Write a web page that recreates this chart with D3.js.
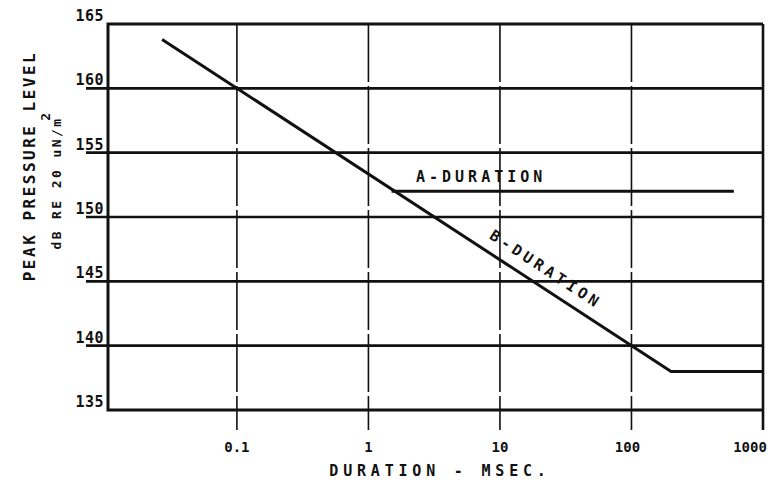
<!DOCTYPE html>
<html>
<head>
<meta charset="utf-8" />
<title>Peak pressure level vs duration</title>
<script src="https://cdn.jsdelivr.net/npm/d3@7"></script>
<style>
body { margin: 0; background: #fff; }
text { font-family: "DejaVu Sans Mono", "Liberation Mono", monospace; fill: #111; font-weight: bold; }
</style>
</head>
<body>
<div id="chart"></div>
<script>
// values
const yTicks = [135, 140, 145, 150, 155, 160, 165];
const xTicks = [0.1, 1, 10, 100, 1000];
const xTickLabels = ["0.1", "1", "10", "100", "1000"];
const bDuration = [[0.027, 163.8], [200, 138], [1000, 138]];
const aDuration = [[1.5, 152], [600, 152]];

const width = 774, height = 485;
const margin = ({top: 24, right: 11, bottom: 75, left: 108});

const svg = d3.select("#chart").append("svg")
	.attr("width", width)
	.attr("height", height);

var x = d3.scaleLog()
	.domain([Math.pow(10, -1.98), 1000])
	.range([margin.left, width - margin.right]);
var y = d3.scaleLinear()
	.domain([135, 165])
	.range([height - margin.bottom, margin.top]);

const ink = "#111";

// horizontal grid, stubs run out left of the frame
svg.append("g").selectAll("line")
	.data(yTicks.filter(d => d > 135 && d < 165))
	.enter().append("line")
		.attr("x1", 86).attr("x2", x.range()[1])
		.attr("y1", d => y(d)).attr("y2", d => y(d))
		.attr("stroke", ink).attr("stroke-width", 2.6);

// vertical grid + ticks hanging below the frame
svg.append("g").selectAll("line")
	.data(xTicks)
	.enter().append("line")
		.attr("x1", d => x(d)).attr("x2", d => x(d))
		.attr("y1", y(165)).attr("y2", y(135) + 20)
		.attr("stroke", ink)
		.attr("stroke-width", d => d === 1000 ? 2.6 : 1.6)
		.attr("stroke-dasharray", d => d === 1000 ? null : "58 4");

// frame: top, left, bottom
svg.append("path")
	.attr("d", "M" + x.range()[1] + "," + y(165) + "H" + x.range()[0] + "V" + y(135) + "H" + x.range()[1])
	.attr("fill", "none").attr("stroke", ink).attr("stroke-width", 3);

// y tick labels sit just above their line
svg.append("g").selectAll("text")
	.data(yTicks)
	.enter().append("text")
		.attr("x", 104)
		.attr("y", d => y(d) - 3)
		.attr("text-anchor", "end")
		.attr("font-size", 15)
		.attr("letter-spacing", 0.5)
		.text(d => d);

svg.append("g").selectAll("text")
	.data(xTicks)
	.enter().append("text")
		.attr("x", (d, i) => x(d) - (i === xTicks.length - 1 ? 13 : i === 3 ? 4 : 0))
		.attr("y", 452)
		.attr("text-anchor", "middle")
		.attr("font-size", 14)
		.text((d, i) => xTickLabels[i]);

// axis titles
svg.append("text")
	.attr("x", 440).attr("y", 476)
	.attr("text-anchor", "middle")
	.attr("font-size", 15)
	.attr("letter-spacing", 4.8)
	.text("DURATION - MSEC.");

svg.append("text")
	.attr("transform", "translate(35,166) rotate(-90)")
	.attr("text-anchor", "middle")
	.attr("font-size", 16)
	.attr("letter-spacing", 2.5)
	.text("PEAK PRESSURE LEVEL");

var sub = svg.append("text")
	.attr("transform", "translate(61,180) rotate(-90)")
	.attr("text-anchor", "middle")
	.attr("font-size", 13)
	.attr("letter-spacing", 2.4);
sub.append("tspan").text("dB RE 20 uN/m");
sub.append("tspan").attr("dy", -11).attr("dx", -4).attr("font-size", 13).text("2");

// curves
var line = d3.line().x(d => x(d[0])).y(d => y(d[1]));

svg.append("path")
	.datum(bDuration)
	.attr("d", line)
	.attr("fill", "none").attr("stroke", ink)
	.attr("stroke-width", 3).attr("stroke-linejoin", "miter");

svg.append("path")
	.datum(aDuration)
	.attr("d", line)
	.attr("fill", "none").attr("stroke", ink)
	.attr("stroke-width", 3);

// labels
svg.append("text")
	.attr("x", x(2.3)).attr("y", y(152) - 9)
	.attr("font-size", 15)
	.attr("font-weight", "normal")
	.attr("letter-spacing", 4)
	.text("A-DURATION");

var p0 = [x(bDuration[0][0]), y(bDuration[0][1])];
var p1 = [x(bDuration[1][0]), y(bDuration[1][1])];
var ang = Math.atan2(p1[1] - p0[1], p1[0] - p0[0]) * 180 / Math.PI;
var lx = 19, ly = bDuration[0][1] + (bDuration[1][1] - bDuration[0][1]) *
	(Math.log10(lx) - Math.log10(bDuration[0][0])) / (Math.log10(bDuration[1][0]) - Math.log10(bDuration[0][0]));
svg.append("text")
	.attr("transform", "translate(" + x(lx) + "," + y(ly) + ") rotate(" + ang + ")")
	.attr("y", -12)
	.attr("text-anchor", "middle")
	.attr("font-size", 15)
	.attr("font-weight", "normal")
	.attr("letter-spacing", 4)
	.text("B-DURATION");
</script>
</body>
</html>
